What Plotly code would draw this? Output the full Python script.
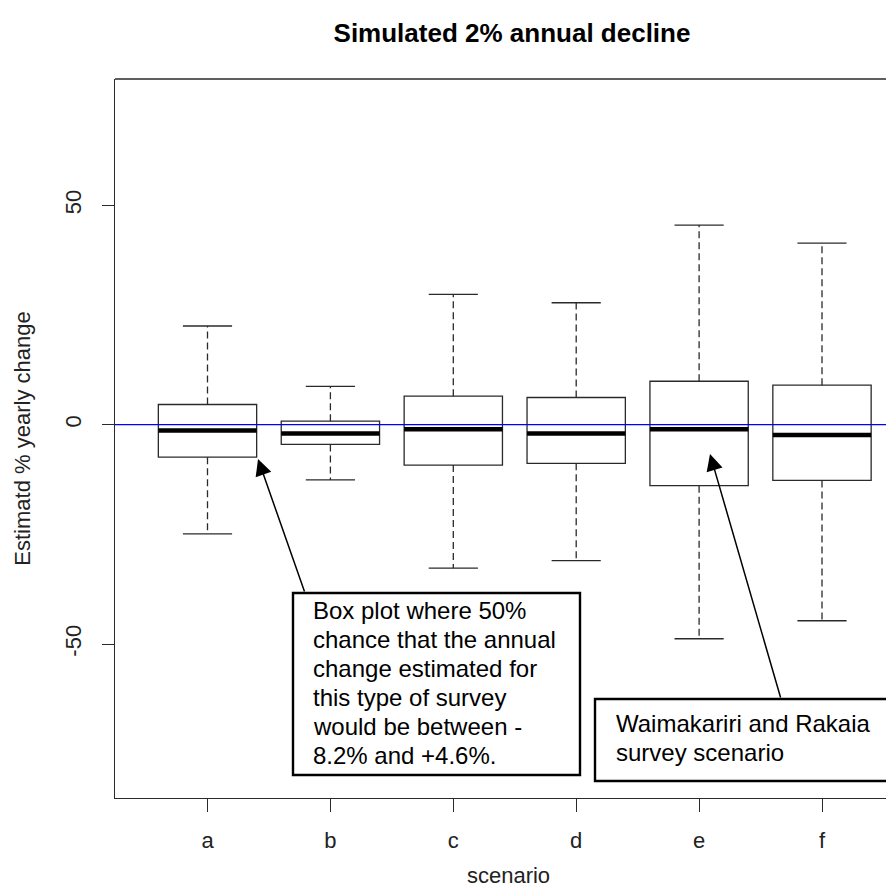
import plotly.graph_objects as go

# ---- data ----
scenarios = ['a', 'b', 'c', 'd', 'e', 'f']
upper_whisker = [22.5, 8.75, 29.7, 27.8, 45.5, 41.4]
q3_values = [4.6, 0.8, 6.5, 6.2, 9.9, 9.0]
median_values = [-1.3, -2.0, -1.05, -2.0, -1.05, -2.35]
q1_values = [-7.4, -4.5, -9.2, -8.8, -13.9, -12.7]
lower_whisker = [-24.9, -12.6, -32.7, -31.0, -48.8, -44.7]
y_tick_values = [-50, 0, 50]
y_tick_labels = ["-50", "0", "50"]
reference_line = 0

title_text = "Simulated 2% annual decline"
x_title = "scenario"
y_title = "Estimatd % yearly change"
note_box_plot_lines = ["Box plot where 50%", "chance that the annual", "change estimated for",
                       "this type of survey", "would be between -", "8.2% and +4.6%."]
note_scenario_lines = ["Waimakariri and Rakaia", "survey scenario"]

# ---- styling ----
FONT = "Liberation Sans, Arial, Helvetica, sans-serif"
W, H = 894, 890
L, T, B, R = 107, 71, 100, 0
plot_w, plot_h = W - L - R, H - T - B
BOX_W = 0.8
STAPLE = 0.2
LINE_COL = "#2a2a2a"
NOTE_SIZE = 24
LINE_STEP = 29

positions = list(range(len(scenarios)))

def px_x(px):
    return (px - L) / plot_w

def px_y(py):
    return (H - B - py) / plot_h

fig = go.Figure()

# whiskers (dashed) and staples
for i, p in enumerate(positions):
    fig.add_trace(go.Scatter(x=[p, p], y=[q3_values[i], upper_whisker[i]], mode="lines",
                             line=dict(color=LINE_COL, width=1.3, dash="7px,4px"),
                             showlegend=False, hoverinfo="skip"))
    fig.add_trace(go.Scatter(x=[p, p], y=[q1_values[i], lower_whisker[i]], mode="lines",
                             line=dict(color=LINE_COL, width=1.3, dash="7px,4px"),
                             showlegend=False, hoverinfo="skip"))
    for val in (upper_whisker[i], lower_whisker[i]):
        fig.add_trace(go.Scatter(x=[p - STAPLE, p + STAPLE], y=[val, val], mode="lines",
                                 line=dict(color=LINE_COL, width=1.3),
                                 showlegend=False, hoverinfo="skip"))

# boxes
for i, p in enumerate(positions):
    fig.add_trace(go.Box(x=[p], q1=[q1_values[i]], median=[median_values[i]], q3=[q3_values[i]],
                         lowerfence=[q1_values[i]], upperfence=[q3_values[i]],
                         width=BOX_W, fillcolor="rgba(255,255,255,0)",
                         line=dict(color=LINE_COL, width=1.3),
                         whiskerwidth=0, showlegend=False, hoverinfo="skip"))

# reference line at zero (blue)
fig.add_shape(type="line", xref="paper", yref="y", x0=0, x1=1,
              y0=reference_line, y1=reference_line,
              line=dict(color="#0000ff", width=1.2), layer="above")

# thick medians
for i, p in enumerate(positions):
    fig.add_trace(go.Scatter(x=[p - BOX_W / 2, p + BOX_W / 2], y=[median_values[i]] * 2,
                             mode="lines", line=dict(color="black", width=4.5),
                             showlegend=False, hoverinfo="skip"))

# top border line
fig.add_shape(type="line", xref="paper", yref="paper", x0=0, x1=1, y0=1, y1=1,
              line=dict(color=LINE_COL, width=1.3))

# annotation boxes
fig.add_shape(type="rect", xref="paper", yref="paper",
              x0=px_x(285), x1=px_x(572), y0=px_y(767), y1=px_y(585),
              line=dict(color="black", width=2.4), fillcolor="white", layer="above")
fig.add_shape(type="rect", xref="paper", yref="paper",
              x0=px_x(587), x1=px_x(888), y0=px_y(773), y1=px_y(691),
              line=dict(color="black", width=2.4), fillcolor="white", layer="above")

for k, line_text in enumerate(note_box_plot_lines):
    fig.add_annotation(xref="paper", yref="paper", x=px_x(303), y=px_y(602 + k * LINE_STEP),
                       xanchor="left", yanchor="middle", align="left", showarrow=False,
                       text=line_text, font=dict(family=FONT, size=NOTE_SIZE, color="black"))
for k, line_text in enumerate(note_scenario_lines):
    fig.add_annotation(xref="paper", yref="paper", x=px_x(606), y=px_y(715 + k * LINE_STEP),
                       xanchor="left", yanchor="middle", align="left", showarrow=False,
                       text=line_text, font=dict(family=FONT, size=NOTE_SIZE, color="black"))

# arrows
fig.add_annotation(xref="paper", yref="paper", x=px_x(250), y=px_y(451),
                   ax=47, ay=134, text="", showarrow=True, arrowhead=2, arrowsize=2.2,
                   arrowwidth=1.5, arrowcolor="black", standoff=0)
fig.add_annotation(xref="paper", yref="paper", x=px_x(702), y=px_y(446),
                   ax=71, ay=245, text="", showarrow=True, arrowhead=2, arrowsize=2.2,
                   arrowwidth=1.5, arrowcolor="black", standoff=0)

x_left = positions[0] - (199.5 - L) / 122.9
x_right = positions[-1] + (W - 814) / 122.9

fig.update_layout(
    width=W, height=H,
    margin=dict(l=L, r=R, t=T, b=B, pad=0),
    paper_bgcolor="white", plot_bgcolor="white",
    showlegend=False,
    title=dict(text="<b>" + title_text + "</b>", x=px_x(504), xref="paper", xanchor="center",
               y=1 - 25 / H, yanchor="middle", yref="container",
               font=dict(family=FONT, size=26, color="black")),
    xaxis=dict(range=[x_left, x_right], tickmode="array", tickvals=positions, ticktext=scenarios,
               showgrid=False, zeroline=False, showline=True, linecolor=LINE_COL, linewidth=1.3,
               mirror=False, ticks="outside", ticklen=13, tickwidth=1.3, tickcolor=LINE_COL,
               ticklabelstandoff=9,
               tickfont=dict(family=FONT, size=22, color="#222"),
               title=dict(text=x_title, standoff=16, font=dict(family=FONT, size=22, color="#222"))),
    yaxis=dict(range=[-85.1, 78.8], tickmode="array", tickvals=y_tick_values, ticktext=y_tick_labels,
               showgrid=False, zeroline=False, showline=True, linecolor=LINE_COL, linewidth=1.3,
               ticks="outside", ticklen=12, tickwidth=1.3, tickcolor=LINE_COL,
               tickangle=-90, ticklabelstandoff=12,
               tickfont=dict(family=FONT, size=22, color="#222"),
               title=dict(text=y_title, standoff=24, font=dict(family=FONT, size=22, color="#222"))),
)

fig.write_html("out.html")
